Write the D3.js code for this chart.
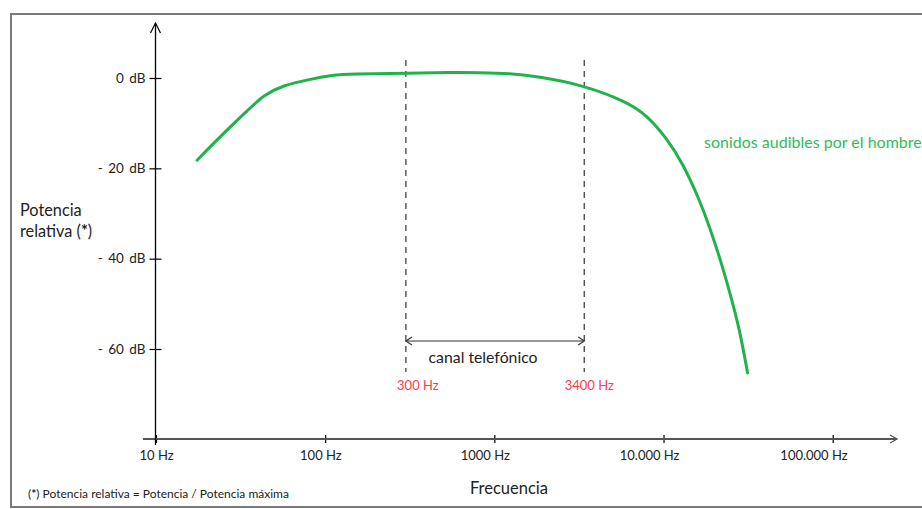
<!DOCTYPE html>
<html><head><meta charset="utf-8">
<script src="https://cdn.jsdelivr.net/npm/d3@7"></script>
<style>body{margin:0;background:#fff} text{font-family:Lato,"Open Sans",sans-serif}</style>
</head><body><svg id="c" width="922" height="509"></svg>
<script>
const freqTicks=[10,100,1000,10000,100000];
const freqTickLabels=["10 Hz","100 Hz","1000 Hz","10.000 Hz","100.000 Hz"];
const dbTicks=[0,-20,-40,-60];
const dbTickLabels=["0 dB","- 20 dB","- 40 dB","- 60 dB"];
const curveFreq=[17.5,23.9,35.9,42.9,56.2,81.2,111,140,316,545,820,1233,1854,3327,6053,7943,10420,12970,16330,18710,21430,24550,28160,31390];
const curveDb=[-18.2,-13.0,-6.7,-3.9,-1.6,-0.3,0.66,0.89,1.04,1.26,1.2,1.0,0.29,-1.55,-5.25,-8.2,-13.3,-18.8,-27.0,-33.0,-39.6,-47.2,-55.6,-65.3];
const bandFreq=[300,3400];
const bandLabels=["300 Hz","3400 Hz"];
const seriesLabel="sonidos audibles por el hombre";
const bandName="canal telefónico";

const svg=d3.select("#c");
const x=d3.scaleLog().domain([10,100000]).range([156,832.7]);
const xLab=d3.scaleLog().domain([10,100000]).range([156,813.5]);
const y=d3.scaleLinear().domain([0,-60]).range([78,349]);

// frame
svg.append("rect").attr("x",11).attr("y",14).attr("width",1000).attr("height",493)
  .attr("fill","none").attr("stroke","#7a7a7a").attr("stroke-width",2);

// x axis
const gx=svg.append("g").attr("transform","translate(0,439)")
  .call(d3.axisBottom(x).tickValues(freqTicks).tickFormat((d,i)=>freqTickLabels[i]).tickSizeOuter(0));
gx.select(".domain").remove();
gx.selectAll(".tick line").attr("y1",-4).attr("y2",4).attr("stroke","#000").attr("stroke-width",1.2);
gx.selectAll(".tick text").attr("y",21).attr("dy",0).attr("x",d=>xLab(d)-x(d))
  .attr("font-size",13).attr("fill","#222").attr("font-family","Lato");
svg.append("line").attr("x1",143).attr("x2",897).attr("y1",439).attr("y2",439)
  .attr("stroke","#555").attr("stroke-width",1.8);
svg.append("path").attr("d","M890,435L897,439L890,443").attr("fill","none").attr("stroke","#555").attr("stroke-width",1.3);

// y axis
const gy=svg.append("g").attr("transform","translate(155.5,0)")
  .call(d3.axisLeft(y).tickValues(dbTicks).tickFormat((d,i)=>dbTickLabels[i]).tickSizeOuter(0));
gy.select(".domain").remove();
gy.selectAll(".tick line").attr("x1",-6).attr("x2",6).attr("stroke","#000").attr("stroke-width",1.2);
gy.selectAll(".tick text").attr("x",-10).attr("font-size",13.5).attr("fill","#222").attr("font-family","Lato")
  .attr("word-spacing","2px");
svg.append("line").attr("x1",155.5).attr("x2",155.5).attr("y1",23).attr("y2",445)
  .attr("stroke","#000").attr("stroke-width",1.3);
svg.append("path").attr("d","M150.5,33L155.5,23L160.5,33").attr("fill","none").attr("stroke","#000").attr("stroke-width",1.2);

// band lines
svg.selectAll(".band").data(bandFreq).join("line").attr("class","band")
  .attr("x1",d=>x(d)).attr("x2",d=>x(d)).attr("y1",60).attr("y2",372)
  .attr("stroke","#444").attr("stroke-width",1.3).attr("stroke-dasharray","6,5");
svg.selectAll(".bandlab").data(bandFreq).join("text").attr("class","bandlab")
  .attr("x",(d,i)=>x(d)+(i===0?12:5)).attr("y",390).attr("text-anchor","middle")
  .attr("font-size",13).attr("fill","#ff3a4c").text((d,i)=>bandLabels[i]);
// double arrow
const ax1=x(bandFreq[0]), ax2=x(bandFreq[1]);
svg.append("line").attr("x1",ax1).attr("x2",ax2).attr("y1",341).attr("y2",341).attr("stroke","#333").attr("stroke-width",1.2);
svg.append("path").attr("d",`M${ax1+6},337L${ax1},341L${ax1+6},345M${ax2-6},337L${ax2},341L${ax2-6},345`)
  .attr("fill","none").attr("stroke","#333").attr("stroke-width",1.2);
svg.append("text").attr("x",(ax1+ax2)/2-12).attr("y",363).attr("text-anchor","middle")
  .attr("font-size",15.8).attr("fill","#222").text(bandName);

// curve
const pts=curveFreq.map((f,i)=>[x(f),y(curveDb[i])]);
svg.append("path").attr("d",d3.line().curve(d3.curveBasis)(pts))
  .attr("fill","none").attr("stroke","#22b24c").attr("stroke-width",3).attr("stroke-linecap","round");

svg.append("text").attr("x",704).attr("y",148).attr("font-size",16).attr("fill","#33bb55").text(seriesLabel);

// axis titles
svg.append("text").attr("x",20).attr("y",216).attr("font-size",16.3).attr("fill","#222").text("Potencia");
const t2=svg.append("text").attr("x",20).attr("y",237).attr("font-size",16.3).attr("fill","#222");
t2.append("tspan").text("relativa (");
t2.append("tspan").attr("font-weight","bold").text("*");
t2.append("tspan").text(")");
svg.append("text").attr("x",509).attr("y",494).attr("text-anchor","middle").attr("font-size",16.5).attr("fill","#222").text("Frecuencia");
const fn=svg.append("text").attr("x",28).attr("y",498).attr("font-size",12).attr("fill","#222");
fn.append("tspan").text("(");
fn.append("tspan").attr("font-weight","bold").text("*");
fn.append("tspan").text(") Potencia relativa = Potencia / Potencia máxima");
</script></body></html>
